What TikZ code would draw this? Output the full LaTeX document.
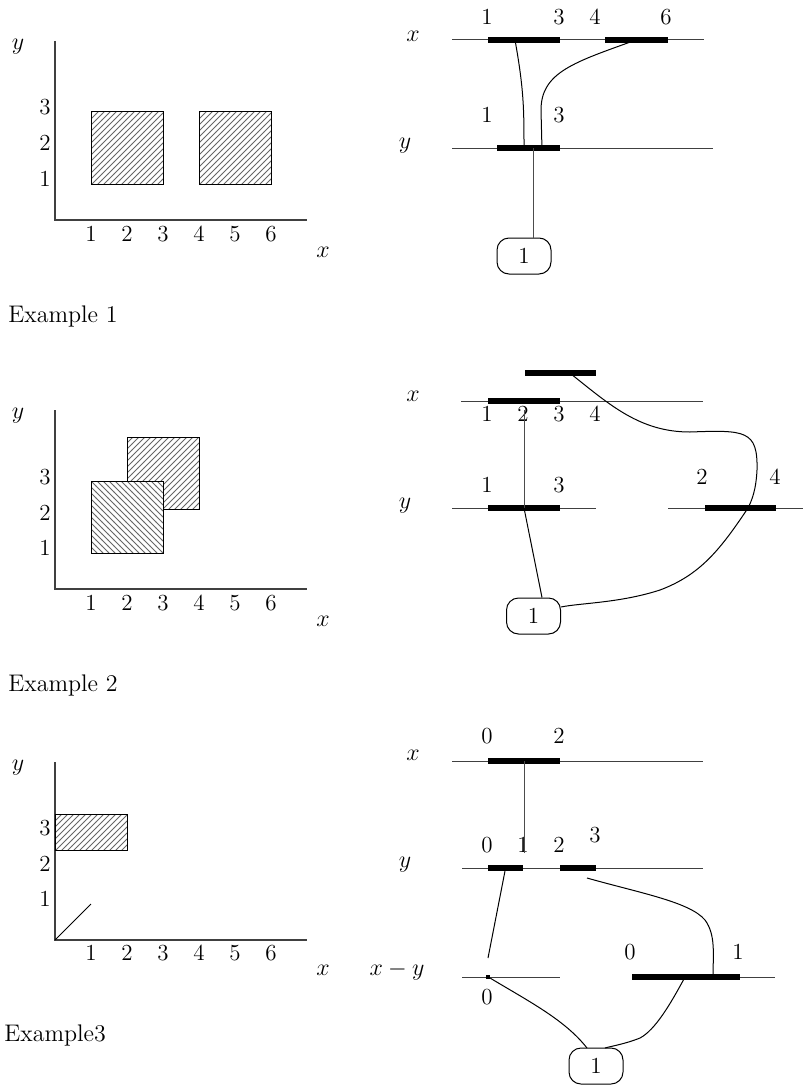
\documentclass[tikz,border=0pt]{standalone}
\usetikzlibrary{patterns}
\begin{document}
\begin{tikzpicture}[x=0.5pt,y=-0.5pt,
  every node/.style={font=\fontsize{11.5}{13}\selectfont, inner sep=1pt},
  caption/.style={anchor=west, font=\fontsize{12}{14}\selectfont},
  ax/.style={line width=0.6pt, black!75},
  rail/.style={line width=0.5pt, black!75},
  segbar/.style={line width=3pt},
  link/.style={line width=0.5pt},
  leaf/.style={draw, rounded corners=6pt, minimum width=27pt, minimum height=18pt, inner sep=0pt, line width=0.5pt},
  hatchR/.style={draw, line width=0.5pt, pattern=north east lines, pattern color=black!60},
  hatchL/.style={draw, line width=0.5pt, pattern=north west lines, pattern color=black!60}]
\useasboundingbox (0,0) rectangle (803,1086);

% Example 1: two disjoint boxes
\draw[ax] (55,41) -- (55,220) -- (307,220);
\node (ya1) at (18,47) {$y$};
\node (xa1) at (323,252) {$x$};
\foreach \v/\py in {1/179,2/143,3/107} \node at (45,\py) {\v};
\foreach \v in {1,...,6} \node at (55+36*\v,234) {\v};
\draw[hatchR] (91,112) rectangle (163,184);
\draw[hatchR] (199,112) rectangle (271,184);
\node[caption] (ex1) at (6,316) {Example 1};

\node (lx1) at (413,36) {$x$};
\node (ly1) at (405,146) {$y$};
\draw[rail] (452,40) -- (704,40);
\draw[segbar] (488,40) -- (560,40);
\draw[segbar] (605,40) -- (668,40);
\foreach \v/\px in {1/487,3/559,4/595,6/666} \node at (\px,17) {\v};
\draw[rail] (452,148) -- (713,148);
\draw[segbar] (497,148) -- (560,148);
\foreach \v/\px in {1/487,3/559} \node at (\px,115) {\v};
\node[leaf] (r1) at (524,256) {1};
\coordinate (p1) at (515,40);
\coordinate (q1) at (524,150);
\coordinate (p2) at (636,40);
\coordinate (q2) at (542,150);
\coordinate (s1) at (533,148);
\draw[link] (p1) .. controls (524,90) and (524,110) .. (q1);
\draw[link] (p2) .. controls (575,62) and (541,72) .. (541,110) -- (q2);
\draw[link, black!70] (s1) -- (s1 |- r1.north);

% Example 2: overlapping boxes
\draw[ax] (55,410) -- (55,589) -- (307,589);
\node (ya2) at (18,416) {$y$};
\node (xa2) at (323,621) {$x$};
\foreach \v/\py in {1/548,2/513,3/477} \node at (45,\py) {\v};
\foreach \v in {1,...,6} \node at (55+36*\v,603) {\v};
\draw[hatchR] (127,437) rectangle (199,509);
\fill[white] (91,481) rectangle (163,553);
\draw[hatchL] (91,481) rectangle (163,553);
\node[caption] (ex2) at (6,685) {Example 2};

\node (lx2) at (413,396) {$x$};
\node (ly2) at (405,506) {$y$};
\draw[segbar] (525,373) -- (596,373);
\draw[rail] (461,401) -- (703,401);
\draw[segbar] (488,401) -- (560,401);
\foreach \v/\px in {1/487,2/523,3/559,4/595} \node at (\px,414) {\v};
\draw[rail] (452,508) -- (596,508);
\draw[rail] (668,508) -- (803,508);
\draw[segbar] (488,508) -- (560,508);
\draw[segbar] (705,508) -- (776,508);
\foreach \v/\px in {1/487,3/559} \node at (\px,485) {\v};
\foreach \v/\px in {2/702,4/775} \node at (\px,477) {\v};
\node[leaf] (r2) at (533.5,616) {1};
\coordinate (t2) at (571,374);
\coordinate (u2) at (524,410);
\coordinate (v2) at (524,508);
\coordinate (w2) at (748,508);
\draw[link, black!70] (u2) -- (v2);
\draw[link] (v2) -- (r2.north -| 542,0);
\draw[link] (t2) .. controls (610,405) and (640,432) .. (690,432)
  .. controls (745,430) and (758,430) .. (757,470)
  .. controls (756,490) and (752,500) .. (w2)
  .. controls (720,550) and (700,575) .. (660,590)
  .. controls (620,603) and (580,603) .. (r2.east |- 0,607);

% Example 3: box and diagonal
\draw[ax] (55,762) -- (55,940) -- (307,940);
\node (ya3) at (18,768) {$y$};
\node (xa3) at (323,970) {$x$};
\foreach \v/\py in {1/899,2/864,3/828} \node at (45,\py) {\v};
\foreach \v in {1,...,6} \node at (55+36*\v,953) {\v};
\draw[hatchR] (55,814) rectangle (127,850);
\draw[link] (55,940) -- (91,904);
\node[caption] (ex3) at (2,1035) {Example3};

\node (lx3) at (413,755) {$x$};
\node (ly3) at (405,865) {$y$};
\node (ld3) at (397,971) {$x-y$};
\draw[rail] (452,761) -- (703,761);
\draw[segbar] (488,761) -- (560,761);
\foreach \v/\px in {0/487,2/559} \node at (\px,736) {\v};
\draw[rail] (462,868) -- (703,868);
\draw[segbar] (488,868) -- (523,868);
\draw[segbar] (560,868) -- (596,868);
\foreach \v/\px in {0/487,1/523,2/559} \node at (\px,845) {\v};
\node at (595,835) {3};
\draw[rail] (462,977) -- (560,977);
\draw[rail] (632,977) -- (775,977);
\fill (486,975) rectangle (490,979);
\draw[segbar] (632,977) -- (740,977);
\node at (487,997) {0};
\foreach \v/\px in {0/630,1/738} \node at (\px,952) {\v};
\node[leaf] (r3) at (596,1066) {1};
\coordinate (a3) at (524,761);
\coordinate (b3) at (524,853);
\coordinate (c3) at (505,871);
\coordinate (d3) at (488,958);
\coordinate (e3) at (587,878);
\coordinate (f3) at (713,977);
\coordinate (g3) at (490,978);
\coordinate (h3) at (685,977);
\draw[link, black!70] (a3) -- (b3);
\draw[link] (c3) -- (d3);
\draw[link] (e3) .. controls (640,893) and (690,902) .. (705,920)
  .. controls (716,935) and (713,955) .. (f3);
\draw[link] (g3) .. controls (530,1002) and (565,1020) .. (587,1048);
\draw[link] (h3) .. controls (670,1005) and (655,1030) .. (640,1038)
  .. controls (625,1044) and (612,1046) .. (605,1048);
\end{tikzpicture}
\end{document}
